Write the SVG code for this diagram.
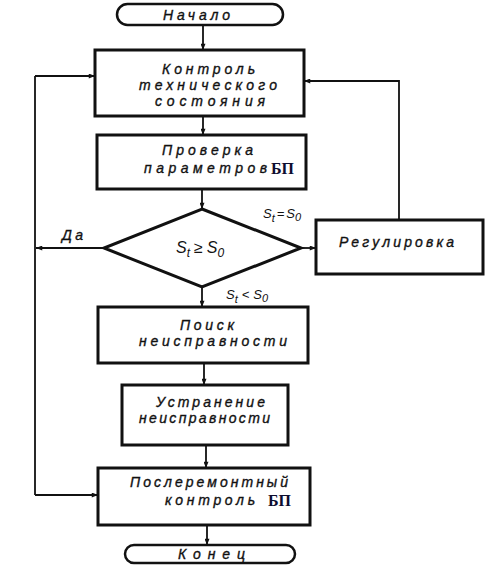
<svg xmlns="http://www.w3.org/2000/svg" width="495" height="579" viewBox="0 0 495 579">
<defs>
<marker id="ah" viewBox="0 0 10 8" refX="10" refY="4" markerWidth="7" markerHeight="5" markerUnits="userSpaceOnUse" orient="auto">
<path d="M0,0 L10,4 L0,8 Z" fill="#111"/>
</marker>
</defs>
<style>
.box{fill:#fff;stroke:#111;stroke-width:3}
.term{fill:#fff;stroke:#111;stroke-width:2.5}
.con{fill:none;stroke:#111;stroke-width:1.8;marker-end:url(#ah)}
.line{fill:none;stroke:#111;stroke-width:1.8}
.t{font-family:"Liberation Sans",Arial,sans-serif;font-style:italic;font-size:14px;fill:#111;stroke:#111;stroke-width:0.35}
.m{font-family:"Liberation Sans",Arial,sans-serif;font-style:italic;font-size:16px;fill:#111}
.s{font-family:"Liberation Sans",Arial,sans-serif;font-style:italic;font-size:13px;fill:#111}
.bp{font-family:"Liberation Serif","Times New Roman",serif;font-weight:bold;font-size:16px;fill:#0d0d30}
</style>
<rect width="495" height="579" fill="#fff"/>
<g id="connectors">
<path class="con" d="M203,25 L203,50"/>
<path class="con" d="M203,116 L203,135"/>
<path class="con" d="M202,189 L202,209"/>
<path class="con" d="M202,287 L202,307"/>
<path class="con" d="M204,363 L204,385"/>
<path class="con" d="M206,445 L206,468"/>
<path class="con" d="M207,525 L207,545"/>
<path class="con" d="M301,248 L316,248"/>
<path class="con" d="M399,220 L399,81 L304,81"/>
<path class="con" d="M104,248 L36,248"/>
<path class="line" d="M35,76 L35,495"/>
<path class="con" d="M35,76 L95,76"/>
<path class="con" d="M35,495 L98,495"/>
</g>
<g id="start">
<rect class="term" x="117" y="4" width="166" height="21" rx="10.5"/>
<text class="t" x="163" y="20" textLength="67" lengthAdjust="spacing">Начало</text>
</g>
<g id="control">
<rect class="box" x="95" y="50" width="209" height="66"/>
<text class="t" x="162" y="74" textLength="93" lengthAdjust="spacing">Контроль</text>
<text class="t" x="139" y="90" textLength="138" lengthAdjust="spacing">технического</text>
<text class="t" x="155" y="106" textLength="110" lengthAdjust="spacing">состояния</text>
</g>
<g id="check">
<rect class="box" x="97" y="135" width="209" height="54"/>
<text class="t" x="162" y="155" textLength="91" lengthAdjust="spacing">Проверка</text>
<text class="t" x="144" y="173" textLength="123" lengthAdjust="spacing">параметров</text>
<text class="bp" x="271" y="174">БП</text>
</g>
<g id="decision">
<polygon points="202,209 301,248 202,287 104,248" fill="#fff" stroke="#111" stroke-width="3"/>
<text class="m" x="176" y="253">S<tspan font-size="12" dy="4">t</tspan><tspan dy="-4" dx="4">≥</tspan><tspan dx="4">S</tspan><tspan font-size="12" dy="4">0</tspan></text>
</g>
<g id="labels">
<text class="s" x="263" y="218">S<tspan font-size="11" dy="4">t</tspan><tspan dy="-4" dx="2">=</tspan><tspan dx="2">S</tspan><tspan font-size="11" dy="3">0</tspan></text>
<text class="s" x="226" y="299">S<tspan font-size="11" dy="4">t</tspan><tspan dy="-4" dx="4">&lt;</tspan><tspan dx="4">S</tspan><tspan font-size="11" dy="3">0</tspan></text>
<text class="t" x="62" y="240" textLength="21" lengthAdjust="spacing">Да</text>
</g>
<g id="adjust">
<rect class="box" x="316" y="220" width="167" height="54"/>
<text class="t" x="339" y="247" textLength="115" lengthAdjust="spacing">Регулировка</text>
</g>
<g id="search">
<rect class="box" x="98" y="307" width="210" height="56"/>
<text class="t" x="180" y="330" textLength="54" lengthAdjust="spacing">Поиск</text>
<text class="t" x="139" y="346" textLength="148" lengthAdjust="spacing">неисправности</text>
</g>
<g id="repair">
<rect class="box" x="122" y="385" width="166" height="60"/>
<text class="t" x="156" y="407" textLength="109" lengthAdjust="spacing">Устранение</text>
<text class="t" x="139" y="423" textLength="131" lengthAdjust="spacing">неисправности</text>
</g>
<g id="postcheck">
<rect class="box" x="98" y="468" width="212" height="57"/>
<text class="t" x="130" y="487" textLength="158" lengthAdjust="spacing">Послеремонтный</text>
<text class="t" x="165" y="505" textLength="90" lengthAdjust="spacing">контроль</text>
<text class="bp" x="268" y="506">БП</text>
</g>
<g id="end">
<rect class="term" x="125" y="545" width="170" height="18" rx="9"/>
<text class="t" x="178" y="559" textLength="67" lengthAdjust="spacing">Конец</text>
</g>
</svg>
